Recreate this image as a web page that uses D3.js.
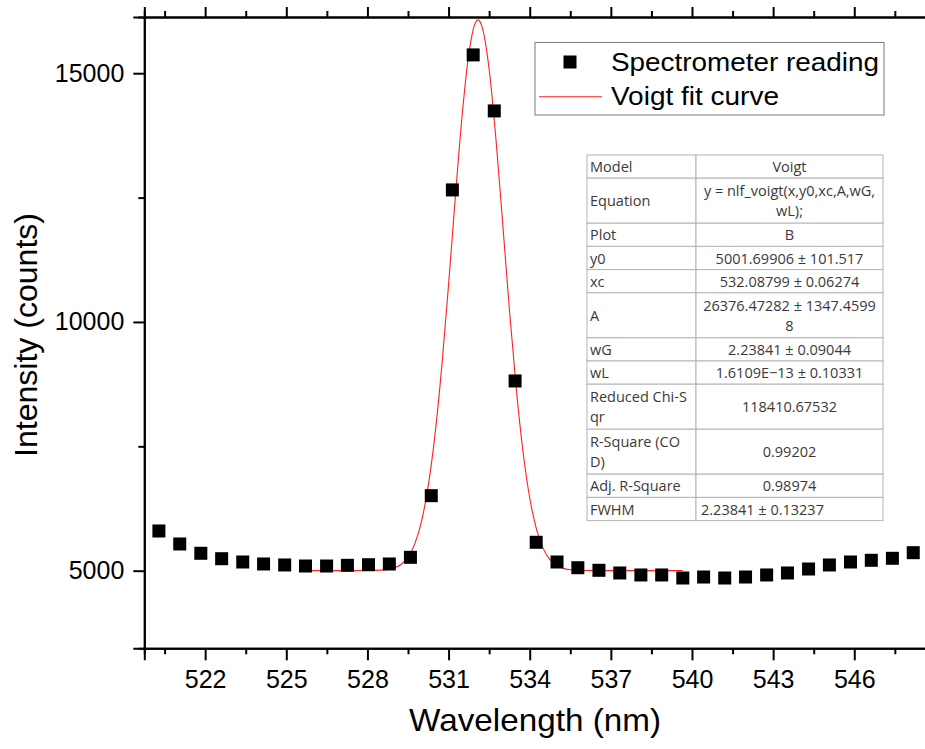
<!DOCTYPE html>
<html><head><meta charset="utf-8">
<script src="https://cdn.jsdelivr.net/npm/d3@7"></script>
<style>body{margin:0;background:#fff}</style>
</head><body><svg id="c" width="925" height="749"></svg>
<script>
// ---- data ----
const wavelength = [520.29,521.06,521.84,522.61,523.39,524.16,524.94,525.71,526.49,527.26,528.04,528.81,529.59,530.36,531.14,531.91,532.69,533.46,534.24,535.01,535.78,536.56,537.33,538.11,538.88,539.66,540.43,541.21,541.98,542.76,543.53,544.31,545.08,545.86,546.63,547.41,548.18];
const intensity = [5798,5537,5350,5241,5175,5135,5115,5094,5094,5108,5120,5135,5269,6508,12654,15368,14242,8814,5571,5175,5060,5008,4954,4914,4914,4853,4873,4853,4873,4914,4954,5034,5115,5175,5209,5249,5362];
const fitWavelength = [525.71,526.5,527,527.5,528,528.5,528.75,529,529.25,529.5,529.75,530,530.25,530.5,530.75,531,531.25,531.5,531.75,532,532.09,532.25,532.5,532.75,533,533.25,533.5,533.75,534,534.25,534.5,534.75,535,535.5,536,536.5,537,538,539,539.66];
const fitIntensity = [5001.7,5001.7,5001.7,5001.8,5002.8,5010.6,5025,5058,5130,5274,5539,5993,6709,7744,9113,10752,12507,14145,15394,16024,16072,15912,15079,13688,11989,10246,8675,7402,6466,5835,5444,5221,5103,5019,5004,5002,5001.7,5001.7,5001.7,5001.7];
const xTicks = [522,525,528,531,534,537,540,543,546];
const xMinor = [520.5,523.5,526.5,529.5,532.5,535.5,538.5,541.5,544.5,547.5];
const yTicks = [5000,10000,15000];
const yMinor = [7500,12500];
const legendLabels = ["Spectrometer reading","Voigt fit curve"];
const tableLabels = [["Model"],["Equation"],["Plot"],["y0"],["xc"],["A"],["wG"],["wL"],["Reduced Chi-S","qr"],["R-Square (CO","D)"],["Adj. R-Square"],["FWHM"]];
const tableValues = [["Voigt"],["y = nlf_voigt(x,y0,xc,A,wG,","wL);"],["B"],["5001.69906 ± 101.517"],["532.08799 ± 0.06274"],["26376.47282 ± 1347.4599","8"],["2.23841 ± 0.09044"],["1.6109E\u221213 ± 0.10331"],["118410.67532"],["0.99202"],["0.98974"],["2.23841 ± 0.13237"]];

// ---- drawing ----
const svg = d3.select("#c");
svg.append("rect").attr("width",925).attr("height",749).attr("fill","#fff");
const L=144.3, R=930, T=17, B=648.3;
const x = d3.scaleLinear().domain([519.75,548.8]).range([L,R]);
const y = d3.scaleLinear().domain([3440,16130]).range([B,T]);
const axisFont = "'Liberation Sans', Arial, sans-serif";

// fit curve
const line = d3.line().x((d,i)=>x(fitWavelength[i])).y(d=>y(d)).curve(d3.curveMonotoneX);
svg.append("path").datum(fitIntensity).attr("d",line).attr("fill","none")
  .attr("stroke","#ff2020").attr("stroke-width",1.1);

// points
const ms = 13;
svg.append("g").selectAll("rect").data(intensity).join("rect")
  .attr("x",(d,i)=>x(wavelength[i])-ms/2).attr("y",d=>y(d)-ms/2)
  .attr("width",ms).attr("height",ms).attr("fill","#000");

// axes
const gx = svg.append("g").attr("transform",`translate(0,${B})`)
  .call(d3.axisBottom(x).tickValues(xTicks).tickSize(12).tickPadding(10).tickFormat(d3.format("d")));
const gxm = svg.append("g").attr("transform",`translate(0,${B})`)
  .call(d3.axisBottom(x).tickValues(xMinor).tickSize(6).tickFormat(""));
const gt = svg.append("g").attr("transform",`translate(0,${T})`)
  .call(d3.axisTop(x).tickValues(xTicks).tickSize(10).tickFormat(""));
const gtm = svg.append("g").attr("transform",`translate(0,${T})`)
  .call(d3.axisTop(x).tickValues(xMinor).tickSize(6).tickFormat(""));
const gy = svg.append("g").attr("transform",`translate(${L},0)`)
  .call(d3.axisLeft(y).tickValues(yTicks).tickSize(11).tickPadding(9).tickFormat(d3.format("d")));
const gym = svg.append("g").attr("transform",`translate(${L},0)`)
  .call(d3.axisLeft(y).tickValues(yMinor).tickSize(6).tickFormat(""));
[gx,gxm,gt,gtm,gy,gym].forEach(g=>{
  g.select(".domain").attr("stroke","#000").attr("stroke-width",2);
  g.selectAll(".tick line").attr("stroke","#000").attr("stroke-width",2);
  g.selectAll(".tick text").attr("font-family",axisFont).attr("font-size",25).attr("fill","#000");
});

// axis titles
svg.append("text").attr("x",535).attr("y",731).attr("text-anchor","middle")
  .attr("font-family",axisFont).attr("font-size",32)
  .attr("textLength",252).attr("lengthAdjust","spacingAndGlyphs").text("Wavelength (nm)");
svg.append("text").attr("transform","translate(37,335) rotate(-90)").attr("text-anchor","middle")
  .attr("font-family",axisFont).attr("font-size",31)
  .attr("textLength",244).attr("lengthAdjust","spacingAndGlyphs").text("Intensity (counts)");

// legend
const lg = svg.append("g");
lg.append("rect").attr("x",535).attr("y",42.5).attr("width",349).attr("height",72.5)
  .attr("fill","#fff").attr("stroke","#7a7a7a").attr("stroke-width",1);
lg.append("rect").attr("x",570-ms/2).attr("y",62-ms/2).attr("width",ms).attr("height",ms).attr("fill","#000");
lg.append("line").attr("x1",539).attr("x2",602).attr("y1",96.7).attr("y2",96.7).attr("stroke","#ff2020").attr("stroke-width",1.1);
const legendWidths = [268,168];
lg.selectAll("text.lt").data(legendLabels).join("text").attr("class","lt")
  .attr("x",611).attr("y",(d,i)=>71+i*33.5).attr("font-family",axisFont).attr("font-size",25.5)
  .attr("textLength",(d,i)=>legendWidths[i]).attr("lengthAdjust","spacingAndGlyphs").text(d=>d);

// table
const tg = svg.append("g");
const tL=587, tM=696, tR=883;
const tableFont = "'Open Sans','Noto Sans',sans-serif";
let rowTop = 155;
tableLabels.forEach((lab,r)=>{
  const n = Math.max(lab.length, tableValues[r].length);
  const h = n===1 ? 23.2 : 45;
  tg.append("rect").attr("x",tL).attr("y",rowTop).attr("width",tM-tL).attr("height",h)
    .attr("fill","#fff").attr("stroke","#b4b4b4").attr("stroke-width",1);
  tg.append("rect").attr("x",tM).attr("y",rowTop).attr("width",tR-tM).attr("height",h)
    .attr("fill","#fff").attr("stroke","#b4b4b4").attr("stroke-width",1);
  const cy = rowTop + h/2;
  lab.forEach((t,i)=>{
    tg.append("text").attr("x",tL+3).attr("y",cy+(i-(lab.length-1)/2)*20).attr("dy","0.38em")
      .attr("font-family",tableFont).attr("font-size",14.5).attr("fill","#3a3a3a").text(t);
  });
  const vals = tableValues[r];
  const leftAlign = lab[0]==="FWHM";
  vals.forEach((t,i)=>{
    tg.append("text").attr("x",leftAlign?tM+5:(tM+tR)/2).attr("y",cy+(i-(vals.length-1)/2)*20).attr("dy","0.38em")
      .attr("text-anchor",leftAlign?"start":"middle")
      .attr("font-family",tableFont).attr("font-size",14.5).attr("fill","#3a3a3a").text(t);
  });
  rowTop += h;
});
</script></body></html>
